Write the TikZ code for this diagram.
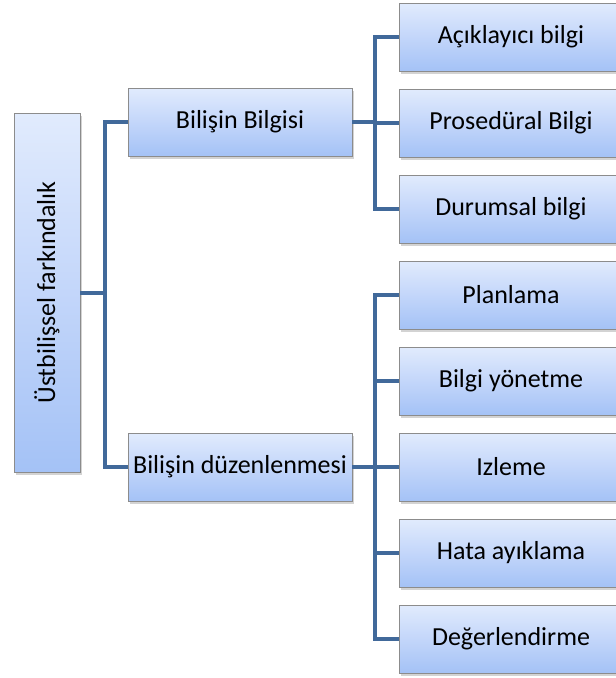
\documentclass[tikz,border=0pt]{standalone}
\usepackage{fontspec}
\setmainfont{Carlito}
\usepackage[HTML]{xcolor}
\usepackage{tikz}
\usetikzlibrary{positioning, shadows}

\definecolor{boxtop}{HTML}{E1EBFD}
\definecolor{boxbot}{HTML}{A4C2F6}
\definecolor{linkblue}{HTML}{41699A}

\newcommand{\boxfont}{\fontsize{26}{30}\selectfont}

\tikzset{
  box/.style={draw=black!45, line width=0.8pt, top color=boxtop, bottom color=boxbot,
    minimum width=224pt, minimum height=68pt, inner sep=0pt,
    drop shadow={shadow xshift=2pt, shadow yshift=-3pt, opacity=0.35},
    font=\boxfont},
  conn/.style={draw=linkblue, line width=4pt},
}

\begin{document}
\begin{tikzpicture}[x=1pt, y=-1pt]
\useasboundingbox (0,0) rectangle (616,678);
\begin{scope}
\clip (0,0) rectangle (616,678);
% root
\node[box, minimum width=66pt, minimum height=359pt] (root) at (47,292.5) {};
\node[rotate=90, font=\boxfont] (roottext) at (root.center) {Üstbilişsel farkındalık};
% level one
\node[box] (bb) at (240,122) {Bilişin Bilgisi};
\node[box] (bd) at (240,467) {Bilişin düzenlenmesi};
% level two
\foreach \t [count=\i] in {Açıklayıcı bilgi, Prosedüral Bilgi, Durumsal bilgi}
  \node[box] (ab\i) at (511,{37+86*(\i-1)}) {\t};
\foreach \t [count=\i] in {Planlama, Bilgi yönetme, Izleme, Hata ayıklama, Değerlendirme}
  \node[box] (ad\i) at (511,{295+86*(\i-1)}) {\t};
% junctions
\coordinate (j0) at (105,0);
\coordinate (j1) at (375,0);
% connectors
\draw[conn] (root.east) -- (root.east -| j0);
\draw[conn] (bb.west) -- (bb.west -| j0) -- (bd.west -| j0) -- (bd.west);
\draw[conn] (bb.east) -- (bb.east -| j1);
\draw[conn] (ab1.west) -- (ab1.west -| j1) -- (ab3.west -| j1) -- (ab3.west);
\draw[conn] (ab2.west) -- (ab2.west -| j1);
\draw[conn] (bd.east) -- (bd.east -| j1);
\draw[conn] (ad1.west) -- (ad1.west -| j1) -- (ad5.west -| j1) -- (ad5.west);
\foreach \i in {2,3,4}
  \draw[conn] (ad\i.west) -- (ad\i.west -| j1);
\end{scope}
\end{tikzpicture}
\end{document}
